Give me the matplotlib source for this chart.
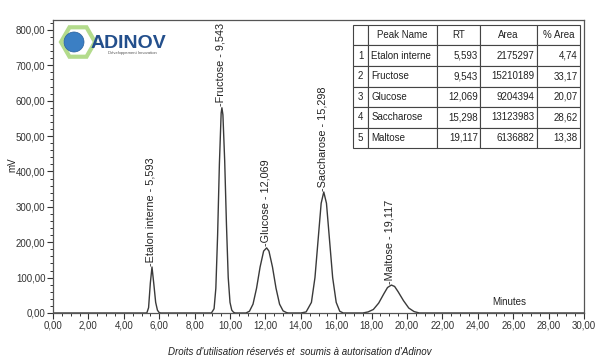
import matplotlib
matplotlib.use("Agg")
import matplotlib.pyplot as plt
from matplotlib.ticker import MultipleLocator, FuncFormatter
from matplotlib.patches import Circle, RegularPolygon

plt.rcParams['font.family'] = ['Liberation Sans', 'DejaVu Sans']

# chromatogram trace (time in min, signal in mV)
trace_t = [0.0, 5.30, 5.40, 5.50, 5.593, 5.70, 5.80, 5.90, 6.00, 6.10,
           8.95, 9.10, 9.20, 9.30, 9.40, 9.50, 9.543, 9.60, 9.70, 9.80, 9.90, 10.00, 10.10, 10.20, 10.30,
           10.90, 11.10, 11.30, 11.50, 11.70, 11.90, 12.069, 12.20, 12.40, 12.60, 12.80, 13.00, 13.20, 13.30,
           14.00, 14.30, 14.60, 14.80, 15.00, 15.15, 15.298, 15.45, 15.60, 15.80, 16.00, 16.20, 16.40,
           17.50, 17.80, 18.10, 18.40, 18.70, 18.90, 19.117, 19.30, 19.50, 19.80, 20.10, 20.40, 20.70,
           30.0]
trace_mv = [0, 0, 15, 85, 130, 80, 30, 8, 1, 0,
            0, 12, 70, 220, 420, 565, 580, 560, 430, 250, 100, 30, 8, 2, 0,
            0, 5, 25, 70, 130, 175, 184, 175, 130, 70, 25, 6, 1, 0,
            0, 3, 30, 100, 220, 310, 342, 310, 220, 100, 30, 5, 0,
            0, 3, 10, 28, 55, 72, 79, 75, 60, 35, 14, 4, 0,
            0]

peak_names = ["Etalon interne", "Fructose", "Glucose", "Saccharose", "Maltose"]
peak_rt = [5.593, 9.543, 12.069, 15.298, 19.117]
peak_height = [130, 580, 184, 342, 79]
peak_area = [2175297, 15210189, 9204394, 13123983, 6136882]
peak_pct = [4.74, 33.17, 20.07, 28.62, 13.38]

def fr(v, nd):
    return f"{v:.{nd}f}".replace(".", ",")

fig = plt.figure(figsize=(6.0, 3.62), dpi=100)
ax = fig.add_axes([53/600, 1-313/362, 531/600, 293/362])

ax.plot(trace_t, trace_mv, color="#3a3a3a", lw=1.0)
ax.set_xlim(0, 30)
ax.set_ylim(0, 828)

ax.xaxis.set_major_locator(MultipleLocator(2))
ax.xaxis.set_minor_locator(MultipleLocator(0.5))
ax.yaxis.set_major_locator(MultipleLocator(100))
ax.yaxis.set_minor_locator(MultipleLocator(20))
ax.xaxis.set_major_formatter(FuncFormatter(lambda v, p: fr(v, 2)))
ax.yaxis.set_major_formatter(FuncFormatter(lambda v, p: fr(v, 2)))
ax.tick_params(which="major", direction="out", length=4, width=0.8, labelsize=7, colors="#333333", pad=1.5)
ax.tick_params(which="minor", direction="out", length=2.5, width=0.7, colors="#333333")
for s in ax.spines.values():
    s.set_color("#555555")
    s.set_linewidth(0.9)

# peak labels
for name, rt, h in zip(peak_names, peak_rt, peak_height):
    ax.text(rt - 0.08, h + 4, "-" + name + " - " + fr(rt, 3), rotation=90,
            ha="center", va="bottom", fontsize=7.8, color="#222222")

ax.text(25.8, 30, "Minutes", ha="center", va="center", fontsize=7, color="#222222")
fig.text(12/600, 1-165/362, "mV", rotation=90, ha="center", va="center", fontsize=7, color="#222222")
fig.text(0.5, 1-352/362, "Droits d'utilisation réservés et  soumis à autorisation d'Adinov",
         ha="center", va="center", fontsize=7, style="italic", color="#222222")

# results table
cells = [[str(i + 1), n, fr(r, 3), str(a), fr(p, 2)]
         for i, (n, r, a, p) in enumerate(zip(peak_names, peak_rt, peak_area, peak_pct))]
col_w = [15, 69, 43, 57, 43]
tot = sum(col_w)
tb = ax.table(cellText=cells, colLabels=["", "Peak Name", "RT", "Area", "% Area"],
              colWidths=[w / tot for w in col_w],
              bbox=[0.565, 0.563, 0.4275, 0.42])
tb.auto_set_font_size(False)
tb.set_fontsize(7)
for (r, c), cell in tb.get_celld().items():
    cell.set_edgecolor("#444444")
    cell.set_linewidth(0.8)
    cell.PAD = 0.05
    if r == 0 or c == 0:
        loc = "center"
    elif c == 1:
        loc = "left"
    else:
        loc = "right"
    cell._loc = loc
    cell.get_text().set_ha(loc)
    cell.get_text().set_color("#222222")

# logo (pixel positions converted to inches)
tr = fig.dpi_scale_trans
fig.patches.append(RegularPolygon((78/100, (362-42)/100), numVertices=6, radius=0.17,
                                  orientation=0.5236, transform=tr,
                                  facecolor="white", edgecolor="#b3db8c", lw=3))
fig.patches.append(Circle((74/100, (362-42)/100), 0.10, transform=tr,
                          facecolor="#3b7fc4", edgecolor="#2a5f9a", lw=0.5))
fig.text(91/600, 1-43/362, "ADINOV", fontsize=14, fontweight="bold", color="#234f8c",
         ha="left", va="center")
fig.text(108/600, 1-53/362, "Développement Innovation", fontsize=3, color="#555555",
         ha="left", va="center")

fig.savefig("out.png", dpi=100)
